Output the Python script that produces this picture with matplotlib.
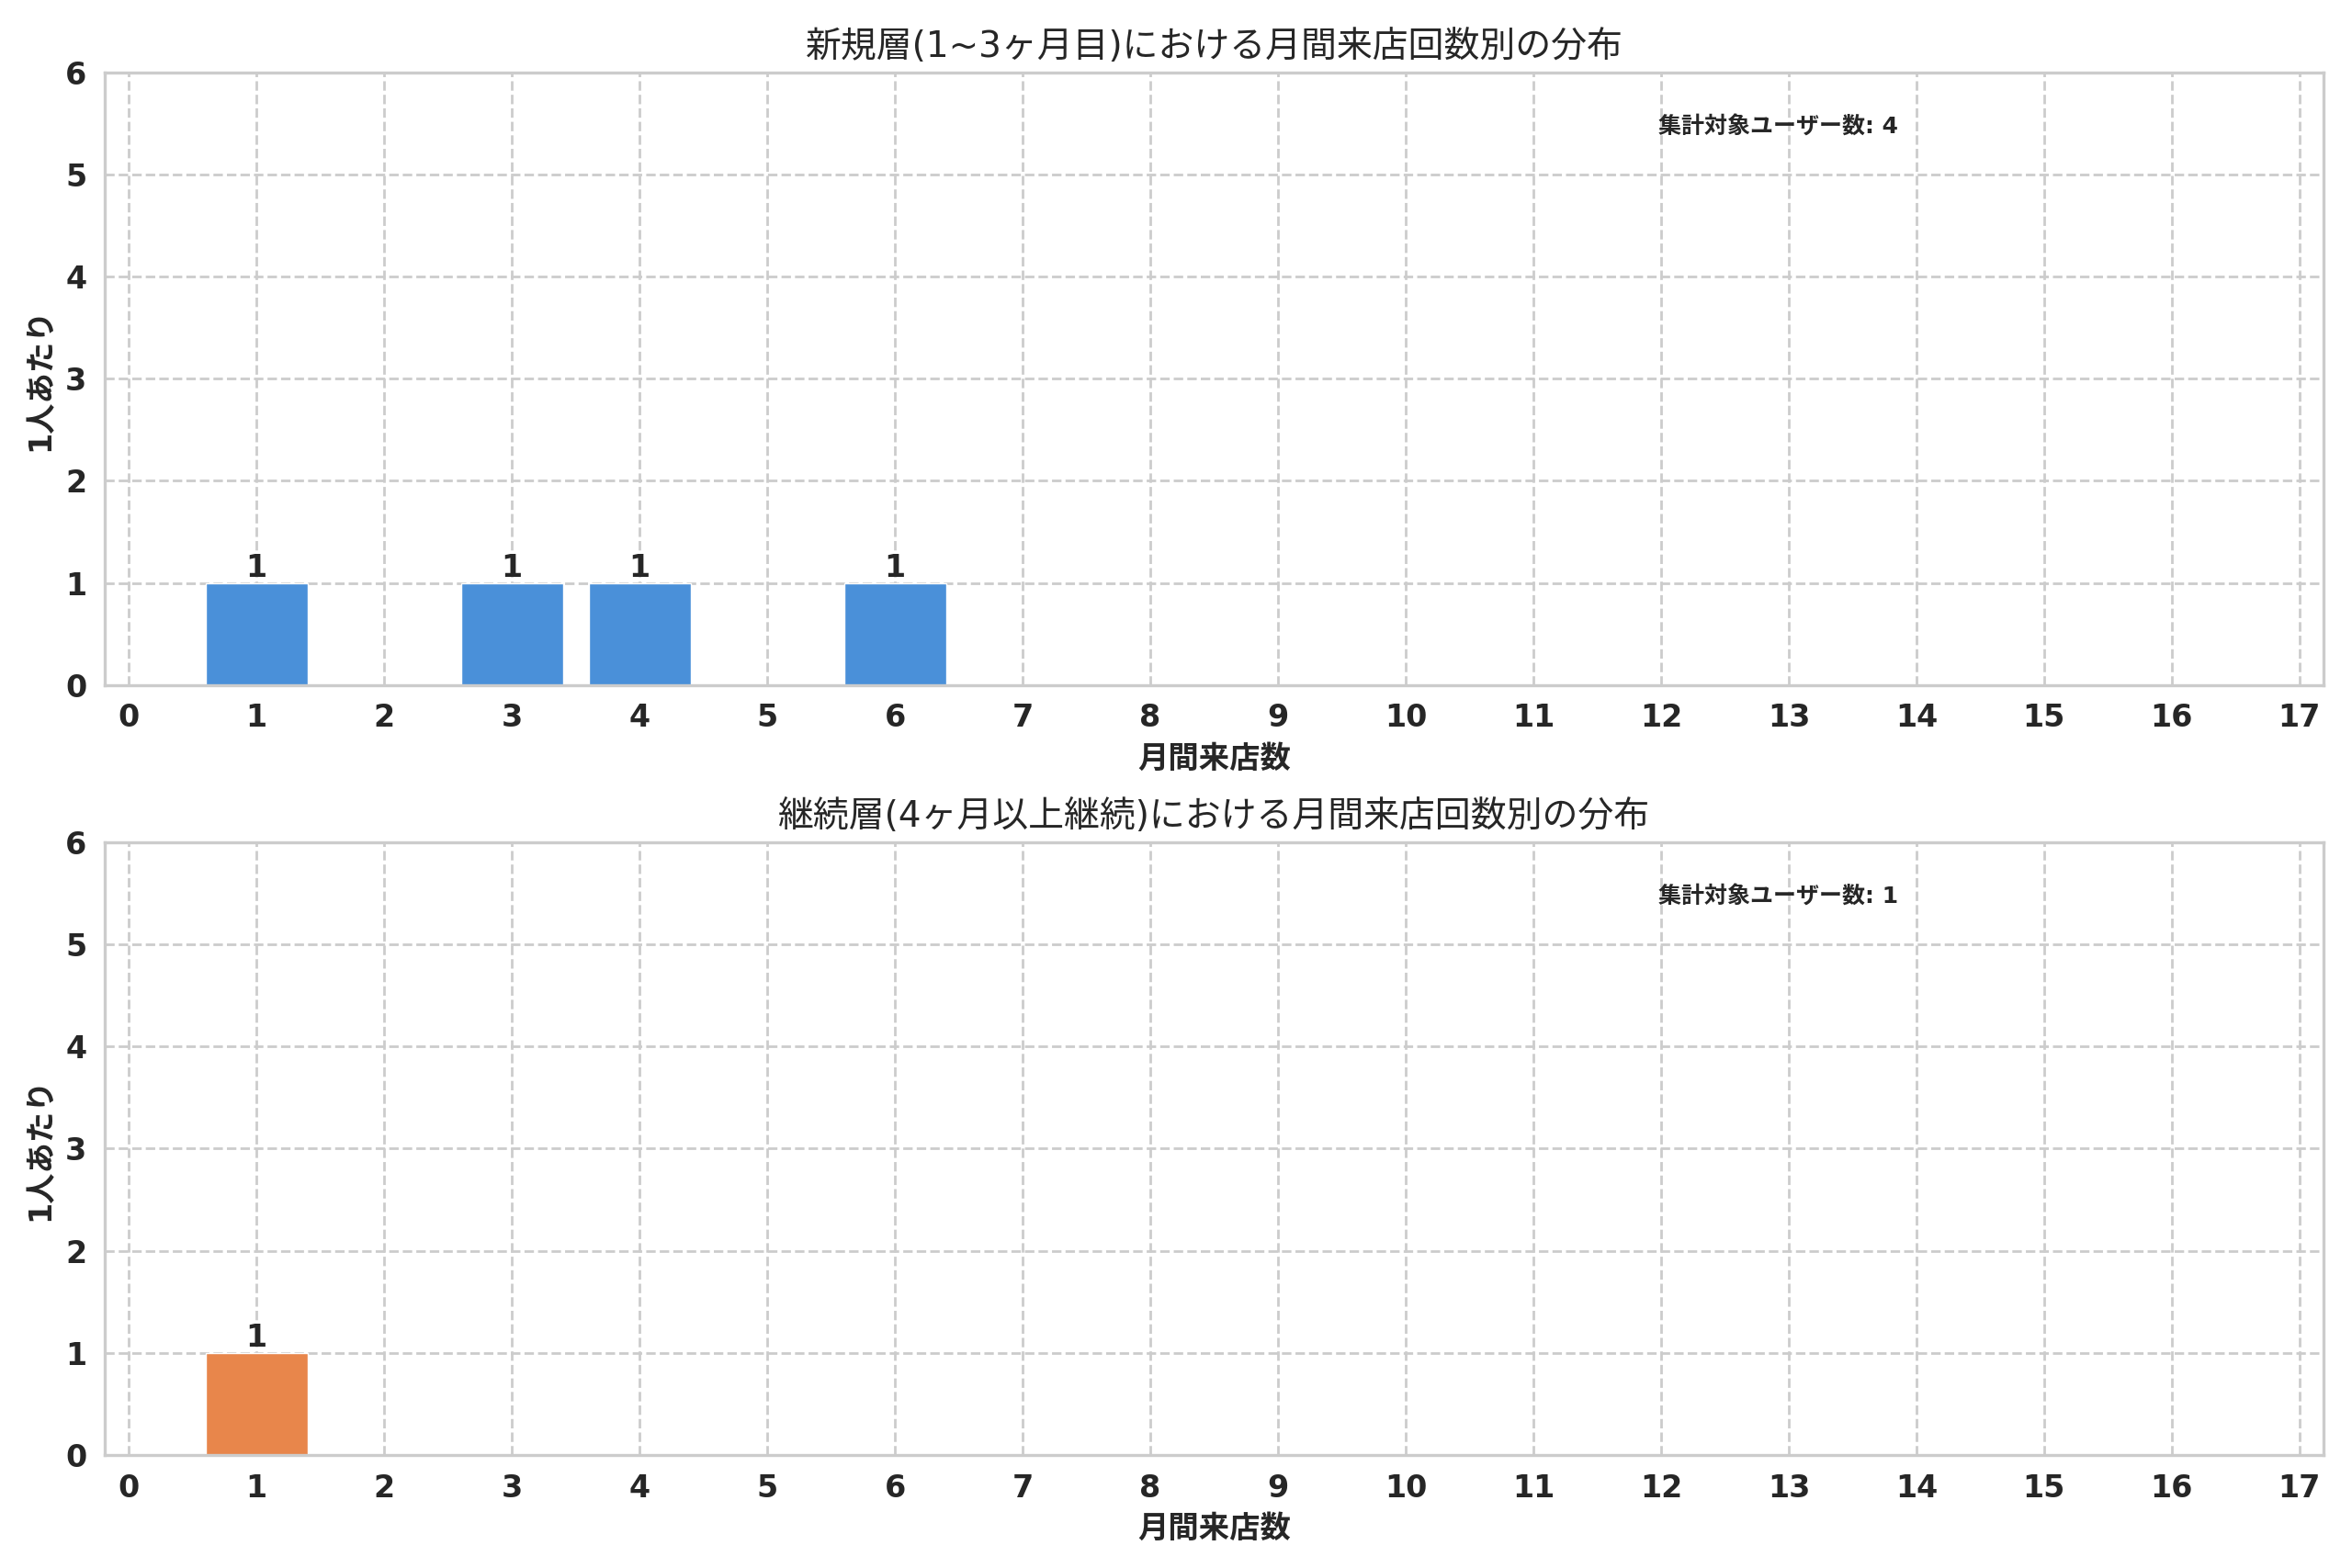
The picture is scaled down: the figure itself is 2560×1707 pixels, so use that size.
import matplotlib
matplotlib.use('Agg')
import matplotlib.pyplot as plt
import seaborn as sns

sns.set_style('whitegrid', {'grid.linestyle': '--'})
plt.rcParams['font.family'] = ['DejaVu Sans', 'Noto Sans CJK JP']

# x: 月間来店数 0..17
visit_counts = list(range(18))
new_users = [0, 1, 0, 1, 1, 0, 1, 0, 0, 0, 0, 0, 0, 0, 0, 0, 0, 0]
cont_users = [0, 1, 0, 0, 0, 0, 0, 0, 0, 0, 0, 0, 0, 0, 0, 0, 0, 0]

titles = ['新規層(1~3ヶ月目)における月間来店回数別の分布',
          '継続層(4ヶ月以上継続)における月間来店回数別の分布']
xlabel = '月間来店数'
ylabel = '1人あたり'
total_label = '集計対象ユーザー数'
colors = ['#4a90d9', '#e8864b']

fig, axes = plt.subplots(2, 1, figsize=(12.8, 8.535), dpi=200)
fig.subplots_adjust(left=0.0445, right=0.988, top=0.954, bottom=0.072, hspace=0.256)

for ax, counts, title, color in zip(axes, [new_users, cont_users], titles, colors):
    ax.bar(visit_counts, counts, width=0.8, color=color, edgecolor='white', linewidth=0.5)
    for x, c in zip(visit_counts, counts):
        if c > 0:
            ax.text(x, c, str(c), ha='center', va='bottom', fontsize=12,
                    fontweight='bold', color='#262626')
    ax.set_xlim(-0.19, 17.19)
    ax.set_ylim(0, 6)
    ax.set_xticks(visit_counts)
    ax.set_yticks(range(7))
    ax.tick_params(labelsize=12)
    for lab in ax.get_xticklabels() + ax.get_yticklabels():
        lab.set_fontweight('bold')
    ax.grid(True, linestyle='--', color='#cccccc', linewidth=1.0)
    ax.set_axisbelow(True)
    for sp in ax.spines.values():
        sp.set_color('#cccccc')
        sp.set_linewidth(1.2)
    ax.set_title(title, fontsize=14, color='#262626')
    ax.set_xlabel(xlabel, fontsize=12, fontweight='bold', color='#262626')
    ax.set_ylabel(ylabel, fontsize=12, fontweight='bold', color='#262626')
    ax.text(0.7, 0.91, f'{total_label}: {sum(counts)}', transform=ax.transAxes,
            ha='left', va='center', fontsize=9, fontweight='bold', color='#262626')

fig.savefig('out.png', dpi=200)
